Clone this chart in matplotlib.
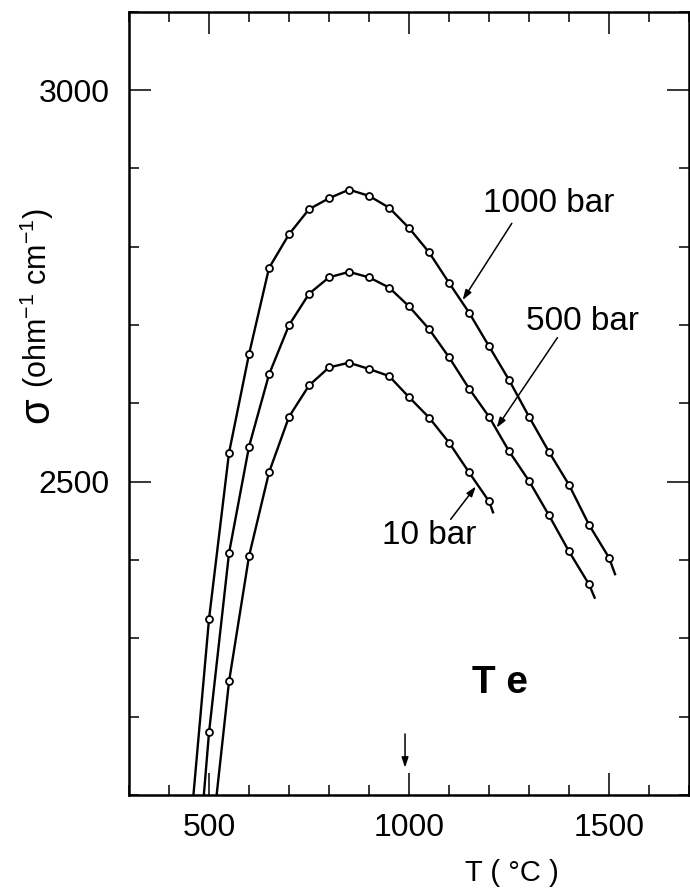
import numpy as np
import matplotlib
matplotlib.use("Agg")
from matplotlib import pyplot as plt
from matplotlib.ticker import MultipleLocator

plt.rcParams['font.family'] = ['Liberation Sans', 'DejaVu Sans']
plt.rcParams['mathtext.fontset'] = 'custom'
plt.rcParams['mathtext.rm'] = 'Liberation Sans'

# temperatures (°C), points every 50 degrees
t_1000 = [500, 550, 600, 650, 700, 750, 800, 850, 900, 950, 1000, 1050,
          1100, 1150, 1200, 1250, 1300, 1350, 1400, 1450, 1500]
s_1000 = [2325, 2537, 2663, 2773, 2816, 2848, 2862, 2873, 2865, 2850, 2824, 2793,
          2754, 2716, 2673, 2630, 2583, 2538, 2496, 2445, 2403]

t_500 = [500, 550, 600, 650, 700, 750, 800, 850, 900, 950, 1000, 1050,
         1100, 1150, 1200, 1250, 1300, 1350, 1400, 1450]
s_500 = [2180, 2409, 2545, 2637, 2700, 2740, 2761, 2768, 2761, 2748, 2724, 2695,
         2659, 2619, 2583, 2539, 2501, 2457, 2411, 2369]

t_10 = [550, 600, 650, 700, 750, 800, 850, 900, 950, 1000, 1050, 1100, 1150, 1200]
s_10 = [2245, 2405, 2512, 2583, 2623, 2646, 2652, 2644, 2635, 2608, 2582, 2550, 2512, 2475]

# where the drawn curves start (bottom axis) and stop
ends_1000 = [(461, 2100), (1515, 2382)]
ends_500 = [(487, 2100), (1464, 2352)]
ends_10 = [(519, 2100), (1210, 2461)]

fig = plt.figure(figsize=(6.9, 8.9), dpi=100)
ax = fig.add_axes([0.187, 0.1067, 0.8116, 0.880])

for t, s, ends in [(t_1000, s_1000, ends_1000), (t_500, s_500, ends_500), (t_10, s_10, ends_10)]:
    xs = [ends[0][0]] + t + [ends[1][0]]
    ys = [ends[0][1]] + s + [ends[1][1]]
    ax.plot(xs, ys, color='black', lw=1.7, zorder=2, solid_joinstyle='round')
    ax.plot(t, s, 'o', ms=5, mfc='white', mec='black', mew=1.3, zorder=3)

ax.set_xlim(300, 1700)
ax.set_ylim(2100, 3100)

ax.xaxis.set_major_locator(MultipleLocator(500))
ax.xaxis.set_minor_locator(MultipleLocator(100))
ax.yaxis.set_major_locator(MultipleLocator(500))
ax.yaxis.set_minor_locator(MultipleLocator(100))
ax.tick_params(which='both', direction='in', top=True, right=True, width=1.1)
ax.tick_params(which='major', length=16, labelsize=23)
ax.tick_params(axis='x', which='major', pad=13)
ax.tick_params(axis='y', which='major', pad=14)
ax.tick_params(which='minor', length=7)
for sp in ax.spines.values():
    sp.set_linewidth(1.8)

# y label: big sigma, then the units
fig.text(37 / 690, 1 - 410 / 890, 'σ', rotation=90,
         ha='center', va='center', fontsize=30)
fig.text(37 / 690, 1 - 298 / 890, '(ohm$^{-1}$ cm$^{-1}$)', rotation=90,
         ha='center', va='center', fontsize=22)
fig.text(512 / 690, 1 - 873 / 890, 'T ( °C )', ha='center', va='center', fontsize=21)

arrow = dict(arrowstyle='-|>,head_length=0.6,head_width=0.2', color='black', lw=1.1,
             shrinkA=0, shrinkB=0)
ax.text(1348, 2855, '1000 bar', ha='center', va='center', fontsize=24)
ax.annotate('', xy=(1134, 2732), xytext=(1257, 2830), arrowprops=arrow)
ax.text(1434, 2705, '500 bar', ha='center', va='center', fontsize=24)
ax.annotate('', xy=(1219, 2569), xytext=(1371, 2684), arrowprops=arrow)
ax.text(1051, 2431, '10 bar', ha='center', va='center', fontsize=24)
ax.annotate('', xy=(1167, 2494), xytext=(1104, 2452), arrowprops=arrow)
ax.annotate('', xy=(990, 2135), xytext=(990, 2178), arrowprops=arrow)

ax.text(1228, 2243, 'T e', ha='center', va='center', fontsize=28, fontweight='bold')

fig.savefig('out.png', dpi=100)
